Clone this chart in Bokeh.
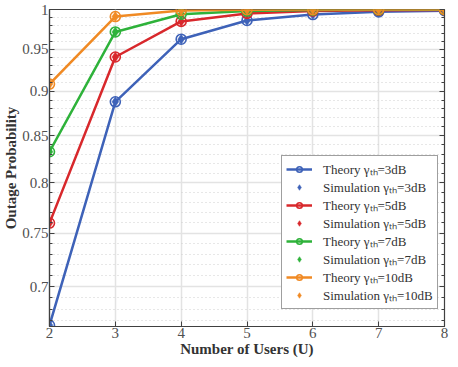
from bokeh.plotting import figure
from bokeh.models import (Range1d, FixedTicker, LogAxis, Legend, LegendItem,
                          CustomJSTickFormatter, ColumnDataSource)
from bokeh.embed import file_html
from bokeh.resources import INLINE

users = [2, 3, 4, 5, 6, 7, 8]
theory_3db = [0.666, 0.888, 0.9625, 0.986, 0.9935, 0.997, 0.9985]
theory_5db = [0.7597, 0.9407, 0.9848, 0.9950, 0.9980, 0.9990, 0.9995]
theory_7db = [0.8327, 0.9715, 0.9940, 0.9980, 0.9992, 0.9996, 0.9998]
theory_10db = [0.9085, 0.9910, 0.9987, 0.9997, 0.9999, 1.0, 1.0]
sim_3db = theory_3db
sim_5db = theory_5db
sim_7db = theory_7db
sim_10db = theory_10db

labels = ["3dB", "5dB", "7dB", "10dB"]
colors = ["#3E62B8", "#D8282C", "#2EB23A", "#F08A24"]
y_ticks = [0.7, 0.75, 0.8, 0.85, 0.9, 0.95, 1.0]
y_minor = [0.67, 0.68, 0.69, 0.71, 0.72, 0.73, 0.74, 0.76, 0.77, 0.78, 0.79,
           0.81, 0.82, 0.83, 0.84, 0.86, 0.87, 0.88, 0.89, 0.91, 0.92, 0.93,
           0.94, 0.96, 0.97, 0.98, 0.99]
x_ticks = [2, 3, 4, 5, 6, 7, 8]

FONT = "Liberation Serif"
AX = "#404040"

p = figure(width=450, height=359, output_backend="svg", toolbar_location=None,
           y_axis_type="log", x_range=Range1d(2, 8), y_range=Range1d(0.665, 1.0),
           min_border_left=40, min_border_right=6, min_border_top=9,
           min_border_bottom=30)

p.outline_line_color = AX
p.outline_line_width = 1.2

yt = FixedTicker(ticks=y_ticks, minor_ticks=y_minor)
xt = FixedTicker(ticks=x_ticks)
fmt = CustomJSTickFormatter(code="return String(Math.round(tick*100)/100);")

p.yaxis.ticker = yt
p.yaxis.formatter = fmt
p.xaxis.ticker = xt

for ax in (p.xaxis[0], p.yaxis[0]):
    ax.axis_line_color = AX
    ax.axis_line_width = 1.2
    ax.major_tick_in = 5
    ax.major_tick_out = 0
    ax.minor_tick_in = 3
    ax.minor_tick_out = 0
    ax.major_tick_line_color = AX
    ax.minor_tick_line_color = AX
    ax.major_label_text_font = FONT
    ax.major_label_text_font_size = "15px"
    ax.major_label_text_color = "#505050"
    ax.axis_label_text_font = FONT
    ax.axis_label_text_font_size = "15px"
    ax.axis_label_text_font_style = "bold"
    ax.axis_label_text_color = "#333333"
    ax.major_label_standoff = 1
    ax.axis_label_standoff = 0

p.xaxis.axis_label = "Number of Users (U)"
p.yaxis.axis_label = "Outage Probability"

right = LogAxis(ticker=yt, major_label_text_font_size="0px",
                axis_line_color=AX, major_tick_in=5, major_tick_out=0,
                minor_tick_in=3, minor_tick_out=0, major_label_standoff=0,
                major_label_overrides={t: "" for t in y_ticks},
                major_tick_line_color=AX, minor_tick_line_color=AX)
right.formatter = CustomJSTickFormatter(code="return '';")
p.add_layout(right, "right")

p.xgrid.grid_line_color = "#e3e3e3"
p.xgrid.grid_line_width = 1.5
p.ygrid.ticker = yt
p.ygrid.grid_line_color = "#e3e3e3"
p.ygrid.grid_line_width = 1.5
p.ygrid.minor_grid_line_color = "#cfcfcf"
p.ygrid.minor_grid_line_dash = "1 3"
p.ygrid.minor_grid_line_width = 1

theory = [theory_3db, theory_5db, theory_7db, theory_10db]
sims = [sim_3db, sim_5db, sim_7db, sim_10db]

items = []
for lab, col, th, sm in zip(labels, colors, theory, sims):
    src_t = ColumnDataSource(dict(x=users, y=th))
    src_s = ColumnDataSource(dict(x=users, y=sm))
    ln = p.line("x", "y", source=src_t, line_color=col, line_width=2.5)
    cr = p.scatter("x", "y", source=src_t, marker="circle", size=10,
                   line_color=col, line_width=1.6, fill_color=None)
    dm = p.scatter("x", "y", source=src_s, marker="diamond", size=10,
                   line_color=col, fill_color=col, line_width=0.5)
    items.append(LegendItem(label="Theory \u03b3\u209c\u2095=" + lab, renderers=[ln, cr]))
    items.append(LegendItem(label="Simulation \u03b3\u209c\u2095=" + lab, renderers=[dm]))

legend = Legend(items=items, location=(232, 17))
legend.label_text_font = FONT
legend.label_text_font_size = "13px"
legend.label_text_color = "#333333"
legend.label_height = 14
legend.glyph_height = 14
legend.glyph_width = 26
legend.spacing = 0
legend.padding = 4
legend.margin = 0
legend.label_standoff = 11
legend.border_line_color = AX
legend.border_line_width = 1.2
legend.background_fill_color = "white"
legend.background_fill_alpha = 1.0
p.add_layout(legend, "center")

open("out.html", "w").write(file_html(p, INLINE))
